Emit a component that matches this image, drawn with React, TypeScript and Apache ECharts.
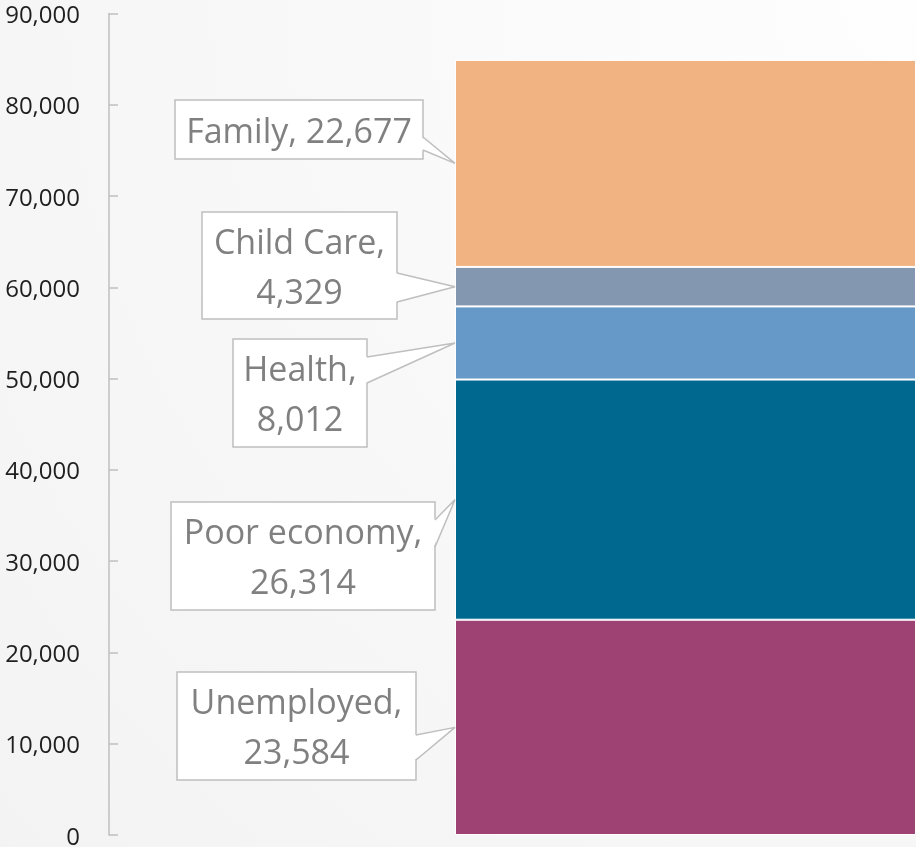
import React, { useEffect, useRef } from "react";
import * as echarts from "echarts";

// ---- data ----
const categories = ["Unemployed", "Poor economy", "Health", "Child Care", "Family"];
const values = [23584, 26314, 8012, 4329, 22677];
const wrapAfterName = [true, true, true, true, false];
const yMin = 0;
const yMax = 90000;
const yInterval = 10000;

// ---- styles / layout ----
const colors = ["#9E4273", "#00688F", "#6699C7", "#8497B0", "#F1B382"];
const W = 916;
const H = 847;
const AXIS_X = 109;
const GRID_LEFT = 455;
const GRID_RIGHT = 0;
// callout boxes (label positions), pointer base offsets relative to box top
const callouts = [
  { x: 177, y: 672, w: 239, h: 108, b1: 63, b2: 88 },
  { x: 171, y: 502, w: 264, h: 108, b1: 18, b2: 45 },
  { x: 233, y: 339, w: 134, h: 108, b1: 18, b2: 44 },
  { x: 202, y: 212, w: 195, h: 107, b1: 61, b2: 90 },
  { x: 175, y: 100, w: 248, h: 59, b1: 37, b2: 50 },
];

const fmt = (v: number) => v.toLocaleString("en-US");

export default function App() {
  const ref = useRef<HTMLDivElement>(null);

  useEffect(() => {
    if (!ref.current) return;
    const chart = echarts.init(ref.current, null, { renderer: "svg" });
    const gridWidth = W - GRID_LEFT - GRID_RIGHT;

    chart.setOption({
      animation: false,
      backgroundColor: "transparent",
      grid: { left: GRID_LEFT, right: GRID_RIGHT, top: 13.5, bottom: 11, containLabel: false },
      xAxis: {
        type: "category",
        data: ["Total"],
        show: false,
        boundaryGap: true,
      },
      yAxis: {
        type: "value",
        min: yMin,
        max: yMax,
        interval: yInterval,
        offset: GRID_LEFT - AXIS_X,
        axisLine: { show: true, lineStyle: { color: "#BFBFBF", width: 1.5 } },
        axisTick: { show: true, inside: true, length: 9, lineStyle: { color: "#BFBFBF", width: 1.5 } },
        splitLine: { show: false },
        axisLabel: {
          margin: 29,
          color: "#1F1F1F",
          fontSize: 24,
          lineHeight: 20,
          fontFamily: '"Open Sans", "Noto Sans", sans-serif',
          formatter: (v: number) => fmt(v),
        },
      },
      series: categories.map((name, i) => ({
        name,
        type: "bar",
        stack: "total",
        barWidth: "100%",
        barCategoryGap: 0,
        data: [values[i]],
        itemStyle: { color: colors[i], borderColor: "#FFFFFF", borderWidth: 1 },
      })),
    });

    const graphics: any[] = [];
    let cum = 0;
    categories.forEach((name, i) => {
      const mid = cum + values[i] / 2;
      cum += values[i];
      const p = chart.convertToPixel({ xAxisIndex: 0, yAxisIndex: 0 }, ["Total", mid]) as number[];
      const tipX = p[0] - gridWidth / 2;
      const tipY = p[1];
      const c = callouts[i];
      const right = c.x + c.w;
      const text = wrapAfterName[i] ? `${name},\n${fmt(values[i])}` : `${name}, ${fmt(values[i])}`;
      graphics.push(
        {
          type: "rect",
          shape: { x: c.x, y: c.y, width: c.w, height: c.h },
          style: { fill: "#FFFFFF", stroke: "#BFBFBF", lineWidth: 1.5 },
          z: 10,
        },
        {
          type: "polygon",
          shape: { points: [[right - 1.5, c.y + c.b1], [tipX, tipY], [right - 1.5, c.y + c.b2]] },
          style: { fill: "#FFFFFF", stroke: "none" },
          z: 11,
        },
        {
          type: "polyline",
          shape: { points: [[right, c.y + c.b1], [tipX, tipY], [right, c.y + c.b2]] },
          style: { fill: "none", stroke: "#BFBFBF", lineWidth: 1.5 },
          z: 12,
        },
        {
          type: "text",
          x: c.x + c.w / 2,
          y: c.y + c.h / 2,
          style: {
            text,
            align: "center",
            verticalAlign: "middle",
            fill: "#808080",
            font: '34px "Open Sans", "Noto Sans", sans-serif',
            lineHeight: 50,
          },
          z: 13,
        }
      );
    });
    chart.setOption({ graphic: graphics });

    return () => chart.dispose();
  }, []);

  return (
    <div
      style={{
        position: "fixed",
        left: 0,
        top: 0,
        width: W,
        height: H,
        background:
          "radial-gradient(circle at 100% 0%, #FEFEFE 0%, #FAFAFA 35%, #F3F3F3 100%)",
      }}
    >
      <div ref={ref} style={{ width: W, height: H }} />
    </div>
  );
}
